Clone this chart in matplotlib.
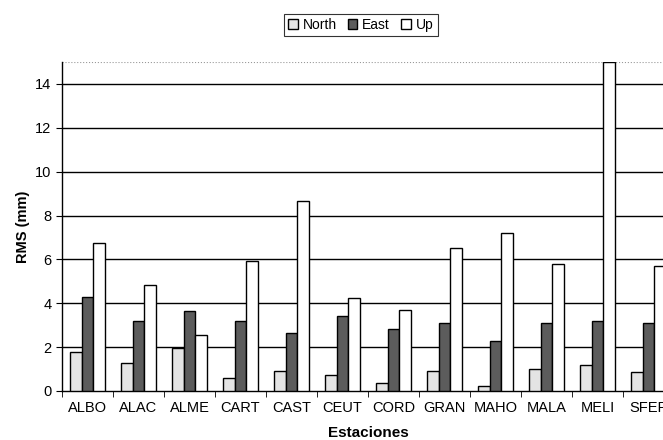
import numpy as np
import matplotlib.pyplot as plt

plt.rcParams['font.family'] = ['Liberation Sans', 'DejaVu Sans']

stations = ['ALBO', 'ALAC', 'ALME', 'CART', 'CAST', 'CEUT', 'CORD', 'GRAN',
            'MAHO', 'MALA', 'MELI', 'SFER']
north = [1.78, 1.26, 1.97, 0.58, 0.93, 0.73, 0.35, 0.91, 0.23, 1.02, 1.19, 0.88]
east = [4.30, 3.19, 3.63, 3.19, 2.66, 3.42, 2.84, 3.12, 2.29, 3.12, 3.21, 3.12]
up = [6.76, 4.85, 2.55, 5.94, 8.66, 4.26, 3.69, 6.51, 7.22, 5.79, 15.0, 5.70]

fig = plt.figure(figsize=(6.63, 4.4), dpi=100)
ax = fig.add_axes([0.0935, 0.1114, 0.923, 0.7477])

x = np.arange(len(stations))
w = 0.23
ax.bar(x - w, north, w, color='#e4e4e4', edgecolor='black', linewidth=1, label='North', zorder=3)
ax.bar(x, east, w, color='#5c5c5c', edgecolor='black', linewidth=1, label='East', zorder=3)
ax.bar(x + w, up, w, color='white', edgecolor='black', linewidth=1, label='Up', zorder=3)

ax.set_xlim(-0.5, len(stations) - 0.5)
ax.set_ylim(0, 15)
ax.set_yticks(range(0, 15, 2))
for yv in range(2, 15, 2):
    ax.axhline(yv, color='black', linewidth=1, zorder=1)
ax.axhline(15, color='#999999', linewidth=0.8, linestyle=':', zorder=1)

ax.set_xticks(x)
ax.set_xticklabels(stations)
ax.set_xticks(np.arange(-0.5, len(stations), 1), minor=True)
ax.tick_params(axis='x', which='major', length=0, labelsize=10.5, pad=7)
ax.tick_params(axis='x', which='minor', length=4, direction='out')
ax.tick_params(axis='y', length=4, labelsize=10.5)

for s in ['top', 'right']:
    ax.spines[s].set_visible(False)
ax.spines['left'].set_linewidth(1)
ax.spines['bottom'].set_linewidth(1)

ax.set_ylabel('RMS (mm)', fontsize=10.5, fontweight='bold')
ax.set_xlabel('Estaciones', fontsize=11, fontweight='bold')
ax.xaxis.set_label_coords(0.5, -0.106)

leg = fig.legend(loc='upper center', bbox_to_anchor=(0.544, 0.985), ncol=3,
                 fontsize=10, frameon=True, fancybox=False, edgecolor='black',
                 handlelength=0.7, handleheight=0.7, handletextpad=0.35,
                 columnspacing=0.8, borderpad=0.3)
leg.get_frame().set_linewidth(0.8)

plt.savefig('out.png')
